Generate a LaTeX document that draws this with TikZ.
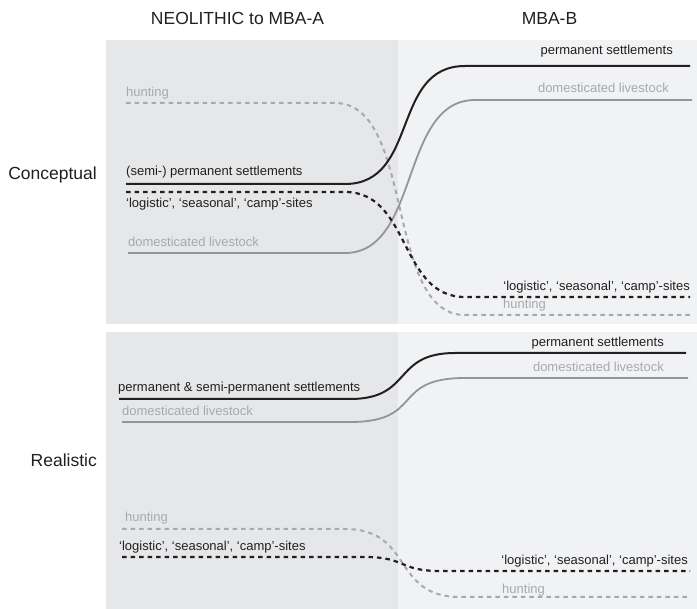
\documentclass[tikz,border=0pt]{standalone}
\usepackage{fontspec}
\setmainfont{Liberation Sans}
\definecolor{panelL}{HTML}{E6E7E8}
\definecolor{panelR}{HTML}{F1F2F3}
\definecolor{ink}{HTML}{231F20}
\definecolor{greyline}{HTML}{939598}
\definecolor{greydash}{HTML}{A7A9AC}
\definecolor{greytext}{HTML}{A7A9AC}
\tikzset{
  lab/.style={inner sep=0pt, font=\fontsize{13}{15}\selectfont, text=ink},
  glab/.style={lab, text=greytext},
  head/.style={inner sep=0pt, font=\fontsize{17.5}{20}\selectfont, text=ink},
  blk/.style={draw=ink, line width=2pt},
  gry/.style={draw=greyline, line width=1.8pt},
  blkdash/.style={draw=ink, line width=2.2pt, dash pattern=on 4.5pt off 4pt},
  grydash/.style={draw=greydash, line width=2pt, dash pattern=on 4.5pt off 4pt}
}
\begin{document}
\begin{tikzpicture}[x=1pt,y=-1pt]
\useasboundingbox (0,0) rectangle (697,609);
% panels
\fill[panelL] (106,40) rectangle (398,324);
\fill[panelR] (398,40) rectangle (697,324);
\fill[panelL] (106,332) rectangle (398,609);
\fill[panelR] (398,332) rectangle (697,609);
% headers
\node[head, anchor=base] (h1) at (237.5,25) {NEOLITHIC to MBA-A};
\node[head, anchor=base] (h2) at (549.5,25) {MBA-B};
\node[head, anchor=base east] (r1) at (97,180) {Conceptual};
\node[head, anchor=base east] (r2) at (97,467) {Realistic};

% ---------- Conceptual ----------
\coordinate (hA) at (126,103); \coordinate (hB) at (335,103);
\coordinate (hC) at (465,315); \coordinate (hD) at (690,315);
\draw[grydash] (hA) -- (hB) .. controls (415.6,103) and (384.4,315) .. (hC) -- (hD);

\coordinate (dA) at (128,253); \coordinate (dB) at (345,253);
\coordinate (dC) at (475,100); \coordinate (dD) at (692,100);
\draw[gry] (dA) -- (dB) .. controls (420.4,253) and (399.6,100) .. (dC) -- (dD);

\coordinate (lA) at (126,192); \coordinate (lB) at (345,192);
\coordinate (lC) at (465,297); \coordinate (lD) at (690,297);
\draw[blkdash] (lA) -- (lB) .. controls (411,192) and (399,297) .. (lC) -- (lD);

\coordinate (pA) at (126,184); \coordinate (pB) at (345,184);
\coordinate (pC) at (465,66); \coordinate (pD) at (690,66);
\draw[blk] (pA) -- (pB) .. controls (419.4,184) and (390.6,66) .. (pC) -- (pD);

\node[glab, anchor=base west] (t1) at (126,97) {hunting};
\node[lab, anchor=base west] (t2) at (126,176) {(semi-) permanent settlements};
\node[lab, anchor=base west] (t3) at (126,208) {‘logistic’, ‘seasonal’, ‘camp’-sites};
\node[glab, anchor=base west] (t4) at (128,247) {domesticated livestock};
\node[lab, anchor=base east] (t5) at (673,55) {permanent settlements};
\node[glab, anchor=base east] (t6) at (669,93) {domesticated livestock};
\node[lab, anchor=base east] (t7) at (690,291) {‘logistic’, ‘seasonal’, ‘camp’-sites};
\node[glab, anchor=base west] (t8) at (503,309) {hunting};

% ---------- Realistic ----------
\coordinate (HA) at (122,529); \coordinate (HB) at (345,529);
\coordinate (HC) at (460,597); \coordinate (HD) at (690,597);
\draw[grydash] (HA) -- (HB) .. controls (414,529) and (391,597) .. (HC) -- (HD);

\coordinate (DA) at (122,422); \coordinate (DB) at (350,422);
\coordinate (DC) at (465,378); \coordinate (DD) at (688,378);
\draw[gry] (DA) -- (DB) .. controls (425,422) and (390,378) .. (DC) -- (DD);

\coordinate (LA) at (122,557); \coordinate (LB) at (365,557);
\coordinate (LC) at (440,571); \coordinate (LD) at (690,571);
\draw[blkdash] (LA) -- (LB) .. controls (406,557) and (399,571) .. (LC) -- (LD);

\coordinate (PA) at (119,399); \coordinate (PB) at (350,399);
\coordinate (PC) at (455,353); \coordinate (PD) at (686,353);
\draw[blk] (PA) -- (PB) .. controls (413,399) and (392,353) .. (PC) -- (PD);

\node[lab, anchor=base west] (u1) at (118,392) {permanent \& semi-permanent settlements};
\node[glab, anchor=base west] (u2) at (122,416) {domesticated livestock};
\node[glab, anchor=base west] (u3) at (125,522) {hunting};
\node[lab, anchor=base west] (u4) at (119,551) {‘logistic’, ‘seasonal’, ‘camp’-sites};
\node[lab, anchor=base east] (u5) at (664,347) {permanent settlements};
\node[glab, anchor=base east] (u6) at (664,372) {domesticated livestock};
\node[lab, anchor=base east] (u7) at (688,565) {‘logistic’, ‘seasonal’, ‘camp’-sites};
\node[glab, anchor=base west] (u8) at (502,594) {hunting};
\end{tikzpicture}
\end{document}
